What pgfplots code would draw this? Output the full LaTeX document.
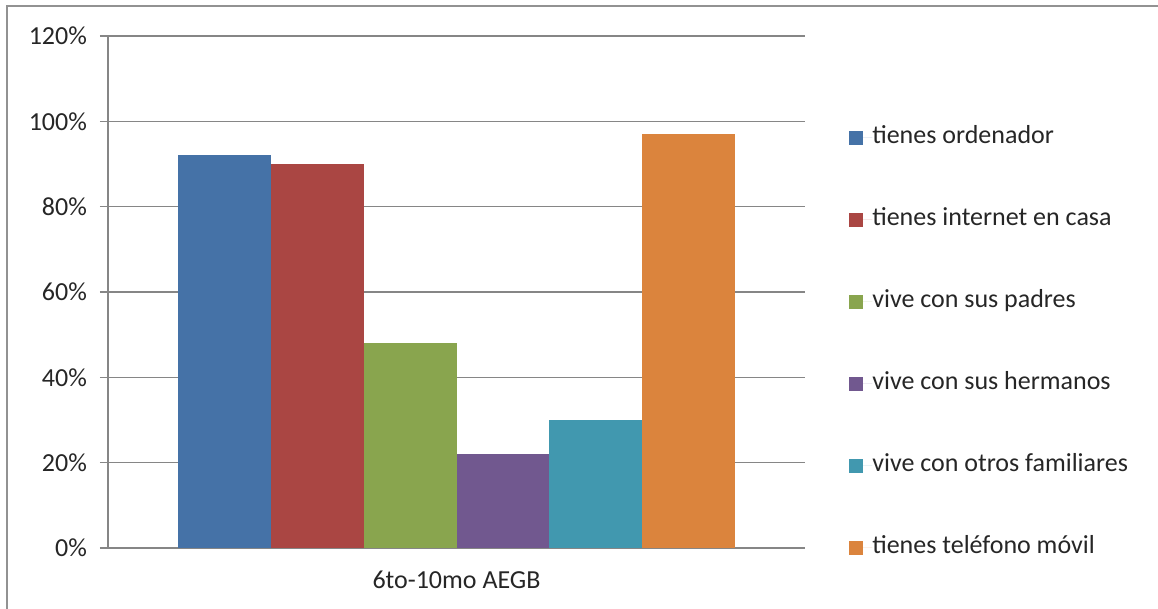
\documentclass[border=0pt]{standalone}
\usepackage{pgfplots}
\pgfplotsset{compat=1.18}
\usepackage{fontspec}
\setmainfont{Carlito}
\definecolor{c1}{HTML}{4572A7}
\definecolor{c2}{HTML}{AA4643}
\definecolor{c3}{HTML}{89A54E}
\definecolor{c4}{HTML}{71588F}
\definecolor{c5}{HTML}{4198AF}
\definecolor{c6}{HTML}{DB843D}
\definecolor{gridc}{HTML}{868686}
\begin{document}
\begin{tikzpicture}
\useasboundingbox (0,0) rectangle (579pt,304.5pt);
\draw[color=gridc!90, line width=1pt] (3.5pt,-2pt) -- (3.5pt,301.5pt) -- (582pt,301.5pt);
\begin{axis}[
  at={(54pt,30.5pt)}, anchor=south west,
  scale only axis, width=348.5pt, height=256pt,
  xmin=-1, xmax=1, ymin=0, ymax=120,
  ytick={0,20,40,60,80,100,120},
  yticklabel={\pgfmathprintnumber{\tick}\%},
  xtick={0}, xticklabels={6to-10mo AEGB},
  axis x line*=bottom, axis y line*=left,
  axis line style={gridc, line width=0.6pt},
  ymajorgrids, grid style={gridc, line width=0.6pt},
  major tick length=4pt, tick align=outside,
  xtick style={draw=none}, ytick style={gridc, line width=0.6pt},
  tick label style={font=\fontsize{13}{15}\selectfont, text=black!85},
  /pgf/number format/assume math mode=true,
  yticklabel style={xshift=-3pt},
  xticklabel style={yshift=-4pt},
  ybar=0pt, bar width=46.35pt,
  legend style={at={(1.063,0.401)}, anchor=west, draw=none, fill=none,
    font=\fontsize{13}{15}\selectfont, text=black!85, inner sep=0pt,
    nodes={inner sep=0pt, text height=9pt, text depth=3pt},
    row sep=29pt},
  legend cell align=left,
  legend image code/.code={\fill[#1] (0pt,-3.5pt) rectangle (7pt,3.5pt); \path (0pt,0pt) -- (11.5pt,0pt);},
]
\addplot[fill=c1, draw=none] coordinates {(0,92)};
\addplot[fill=c2, draw=none] coordinates {(0,90)};
\addplot[fill=c3, draw=none] coordinates {(0,48)};
\addplot[fill=c4, draw=none] coordinates {(0,22)};
\addplot[fill=c5, draw=none] coordinates {(0,30)};
\addplot[fill=c6, draw=none] coordinates {(0,97)};
\legend{tienes ordenador, tienes internet en casa, vive con sus padres, vive con sus hermanos, vive con otros familiares, tienes teléfono móvil}
\end{axis}
\end{tikzpicture}
\end{document}
